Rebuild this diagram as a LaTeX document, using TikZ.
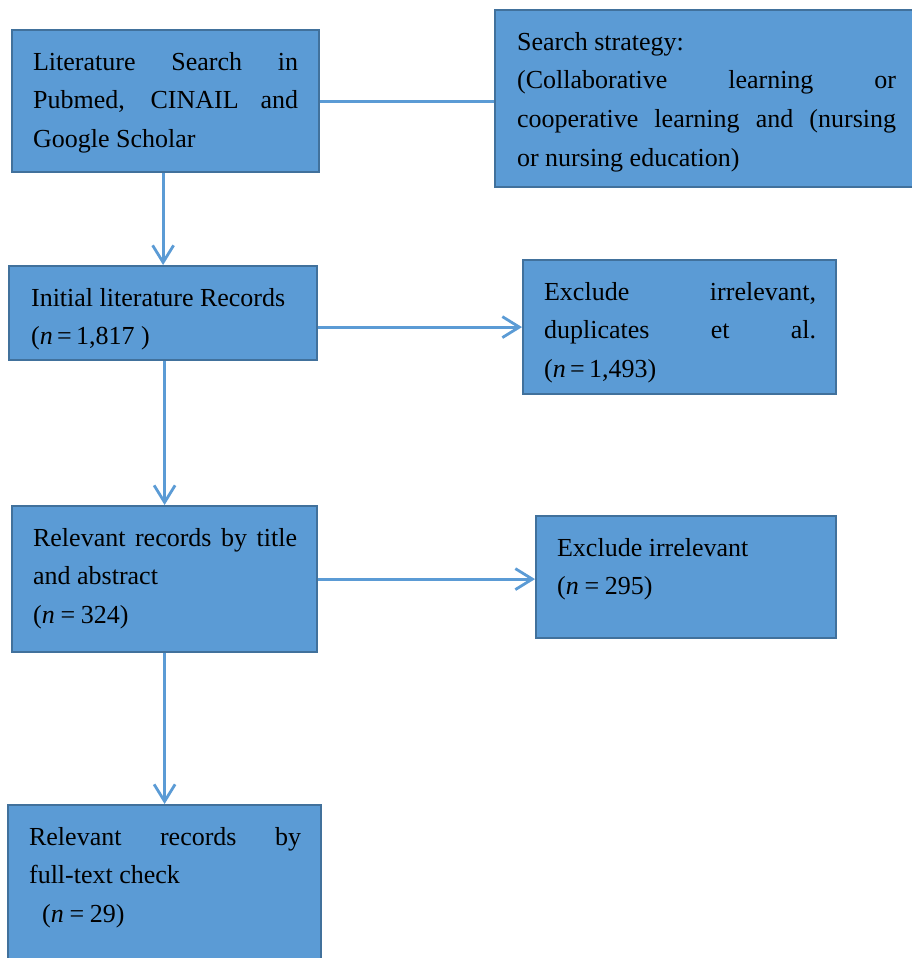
\documentclass[tikz,border=0pt]{standalone}
\usepackage{fontspec}
\setmainfont{Liberation Serif}
\usetikzlibrary{arrows.meta}
\definecolor{boxfill}{HTML}{5B9BD5}
\definecolor{boxline}{HTML}{41719C}
\definecolor{connline}{HTML}{5B9BD5}
\newcommand\boxtext[5]{\hspace*{#1}\parbox[t][#4][t]{#2}{\tolerance=10000\hyphenpenalty=10000\fontsize{26}{38.8}\selectfont\rule{0pt}{40pt}#5}\hspace*{#3}}
\tikzset{
  flowbox/.style={draw=boxline, line width=2.2pt, fill=boxfill, inner sep=0pt, anchor=north west},
  conn/.style={draw=connline, line width=2.8pt},
  arr/.style={conn, -{Straight Barb[length=17pt, width=21pt, line width=2.8pt]}}
}
\begin{document}
\begin{tikzpicture}[x=1pt,y=1pt]
\useasboundingbox (0,0) rectangle (912,-958);
\clip (0,0) rectangle (912,-958);
\node[flowbox] (b1) at (11,-29) {\boxtext{21pt}{265pt}{21pt}{142pt}{Literature Search in\linebreak Pubmed, CINAIL and\linebreak Google Scholar}};
\node[flowbox] (b2) at (494,-9) {\boxtext{22pt}{379pt}{29pt}{177pt}{Search strategy:\\(Collaborative learning or\linebreak cooperative learning and (nursing\linebreak or nursing education)}};
\node[flowbox] (b3) at (8,-265) {\boxtext{22pt}{264pt}{22pt}{94pt}{Initial literature Records\\(\textit{n}\,=\,1,817 )}};
\node[flowbox] (b4) at (522,-259) {\boxtext{21pt}{272pt}{20pt}{134pt}{Exclude irrelevant,\linebreak duplicates et al.\linebreak (\textit{n}\,=\,1,493)}};
\node[flowbox] (b5) at (11,-505) {\boxtext{21pt}{264pt}{20pt}{146pt}{Relevant records by title\linebreak and abstract\\(\textit{n}\:=\:324)}};
\node[flowbox] (b6) at (535,-515) {\boxtext{21pt}{258pt}{21pt}{122pt}{Exclude irrelevant\\(\textit{n}\:=\:295)}};
\node[flowbox] (b7) at (7,-804) {\boxtext{21pt}{272pt}{20pt}{170pt}{Relevant records by\linebreak full-text check\\\hspace*{13pt}(\textit{n}\:=\:29)}};
\draw[conn] (b1.east) -- (b1.east -| b2.west);
\draw[arr] (b3.north |- b1.south) -- (b3.north);
\draw[arr] (b3.east |- b4.west) -- (b4.west);
\draw[arr] (b5.north |- b3.south) -- (b5.north);
\draw[arr] (b5.east) -- (b5.east -| b6.west);
\draw[arr] (b5.south) -- (b5.south |- b7.north);
\end{tikzpicture}
\end{document}
